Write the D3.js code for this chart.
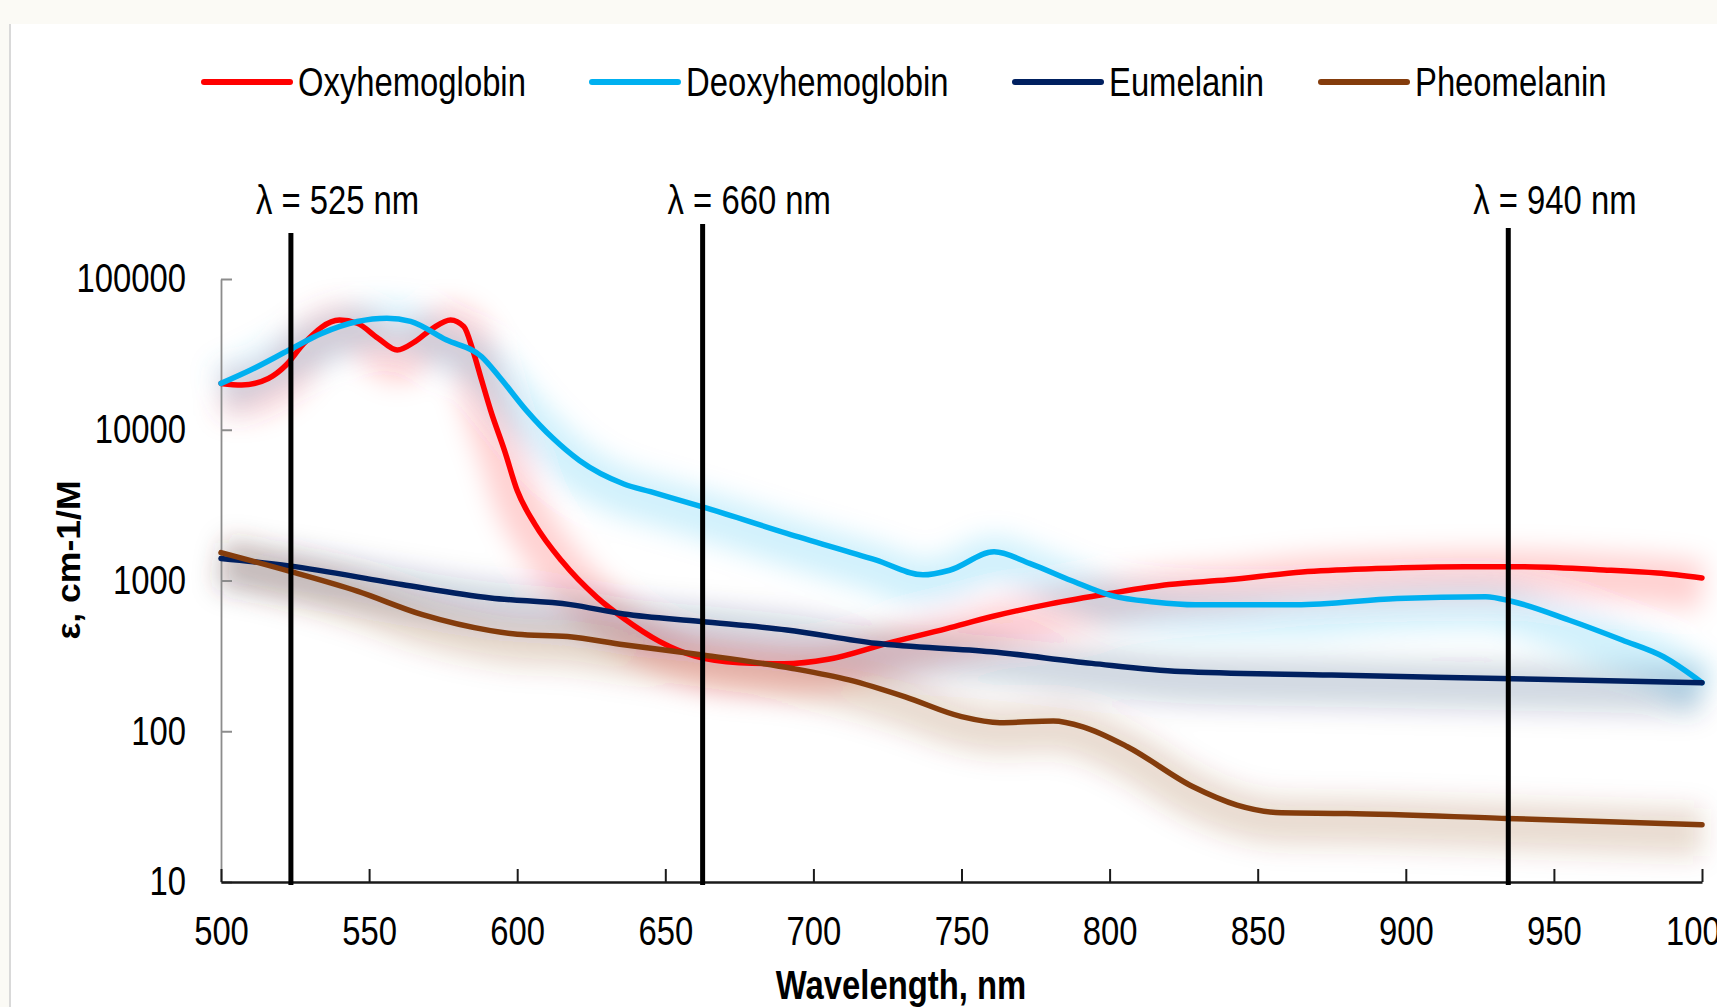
<!DOCTYPE html>
<html>
<head>
<meta charset="utf-8">
<script src="https://cdn.jsdelivr.net/npm/d3@7"></script>
<style>
  html, body { margin: 0; padding: 0; background: #fbfaf5; overflow: hidden; }
  svg { display: block; }
</style>
</head>
<body>
<svg id="chart" width="1717" height="1007"></svg>
<script>
// ---------- data ----------
const seriesNames = ["Oxyhemoglobin", "Deoxyhemoglobin", "Eumelanin", "Pheomelanin"];
const seriesColors = ["#ff0000", "#00b0f0", "#002060", "#843c0c"];

const oxyWl  = [500,507,516,522,528,540,546,553,559.5,565.5,571.5,577.5,582,585,588,591,595.7,600,606,615,627,636,648,660,675,690,705,725,745,760,780,800,820,840,865,890,920,940,965,985,1000];
const oxyVal = [20300,19800,21900,26900,37400,53500,50900,40500,33800,38400,47100,53500,48300,33800,21300,13500,7300,3950,2360,1350,770,560,395,315,285,280,300,383,480,575,700,820,940,1010,1140,1200,1235,1235,1180,1120,1040];

const deoxyWl  = [500,510,523,534,546,556,564,576,588,594,603,612,621,636,645,664,691,721,737,746,761,773,787,801,815,829,863,897,927,936,955,973,987,1000];
const deoxyVal = [20300,24900,33800,43600,52300,55000,52300,39500,30500,22400,13500,8800,6250,4370,3880,3020,2055,1370,1090,1170,1550,1300,1000,790,720,690,690,760,780,725,547,403,312,210];

const euWl  = [500,523,561,591,618,636,662,691,721,760,794,824,875,932,1000];
const euVal = [1400,1250,940,766,692,600,535,470,383,337,282,249,236,224,210];

const pheoWl  = [500,523,546,568,591,600,617,636,662,693,712,731,750,763,781,791,806,828,843,858,880,934,1000];
const pheoVal = [1530,1153,849,593,465,440,425,375,322,261,219,169,125,114,117,107,79,43,32.4,28.8,28.5,26.4,24];

const markerLabels = ["λ = 525 nm", "λ = 660 nm", "λ = 940 nm"];
const markerPos    = [523.6, 662.6, 934.6];   // where the lines sit on the axis in the picture

const xTicks = [500,550,600,650,700,750,800,850,900,950,1000];
const yTicks = [10,100,1000,10000,100000];
const xTitle = "Wavelength, nm";
const yTitle = "ε, cm-1/M";

// ---------- setup ----------
const svg = d3.select("#chart");
const FONT = "'Liberation Sans Narrow','Arial Narrow','Liberation Sans',Arial,sans-serif";
const WIDEFONT = "'Liberation Sans',Arial,sans-serif";

// detect a narrow font
let narrowOK = true;
(function(){
  const t1 = svg.append("text").attr("font-family", "'Liberation Sans Narrow','Arial Narrow'").attr("font-size", 40).text("Oxyhemoglobin 1234");
  const t2 = svg.append("text").attr("font-family", "'Liberation Sans',Arial").attr("font-size", 40).text("Oxyhemoglobin 1234");
  const w1 = t1.node().getComputedTextLength(), w2 = t2.node().getComputedTextLength();
  narrowOK = w1 < w2 * 0.92;
  t1.remove(); t2.remove();
})();
function narrow(sel) {
  if (!narrowOK) sel.each(function(){
    const w = this.getComputedTextLength();
    d3.select(this).attr("textLength", w * 0.82).attr("lengthAdjust", "spacingAndGlyphs");
  });
  return sel;
}

// background panel
svg.append("rect").attr("x", 0).attr("y", 0).attr("width", 1717).attr("height", 1007).attr("fill", "#fbfaf5");
svg.append("rect").attr("x", 10).attr("y", 24).attr("width", 1707).attr("height", 983).attr("fill", "#ffffff");
svg.append("line").attr("x1", 10).attr("x2", 10).attr("y1", 24).attr("y2", 1007).attr("stroke", "#d9d9d9").attr("stroke-width", 2);

const x = d3.scaleLinear().domain([500, 1000]).range([221, 1702]);
const y = d3.scaleLog().domain([10, 100000]).range([882, 279]);

// glow filter
const defs = svg.append("defs");
const f = defs.append("filter").attr("id", "glow").attr("x", "-10%").attr("y", "-60%").attr("width", "120%").attr("height", "220%");
f.append("feGaussianBlur").attr("stdDeviation", 13);

const series = [
  {name: seriesNames[0], color: seriesColors[0], wl: oxyWl,   v: oxyVal},
  {name: seriesNames[1], color: seriesColors[1], wl: deoxyWl, v: deoxyVal},
  {name: seriesNames[2], color: seriesColors[2], wl: euWl,    v: euVal},
  {name: seriesNames[3], color: seriesColors[3], wl: pheoWl,  v: pheoVal}
];

const line = d3.line().x(d => x(d[0])).y(d => y(d[1])).curve(d3.curveMonotoneX);

// glows
const glowG = svg.append("g").attr("filter", "url(#glow)");
series.forEach(s => {
  glowG.append("path")
    .attr("d", line(s.wl.map((w, i) => [w, s.v[i]])))
    .attr("transform", "translate(0,8)")
    .attr("fill", "none").attr("stroke", s.color).attr("stroke-opacity", 0.18)
    .attr("stroke-width", 48).attr("stroke-linejoin", "round");
});

// axes
const yAxis = svg.append("g").attr("transform", `translate(${x(500)},0)`)
  .call(d3.axisLeft(y).tickValues(yTicks).tickFormat(d3.format("d")).tickSizeInner(-11).tickSizeOuter(0).tickPadding(35));
yAxis.select(".domain").attr("stroke", "#8c8c8c").attr("stroke-width", 1.8);
yAxis.selectAll(".tick line").attr("stroke", "#8c8c8c").attr("stroke-width", 2);
yAxis.selectAll("text").attr("font-family", FONT).attr("font-size", 40).attr("fill", "#000");

const xAxis = svg.append("g").attr("transform", `translate(0,${y(10)})`)
  .call(d3.axisBottom(x).tickValues(xTicks).tickFormat(d3.format("d")).tickSizeInner(-13).tickSizeOuter(0).tickPadding(35));
xAxis.select(".domain").attr("stroke", "#1a1a1a").attr("stroke-width", 2.5);
xAxis.selectAll(".tick line").attr("stroke", "#1a1a1a").attr("stroke-width", 2);
xAxis.selectAll("text").attr("font-family", FONT).attr("font-size", 40).attr("fill", "#000");
narrow(yAxis.selectAll("text")); narrow(xAxis.selectAll("text"));

// series lines
series.forEach(s => {
  svg.append("path")
    .attr("d", line(s.wl.map((w, i) => [w, s.v[i]])))
    .attr("fill", "none").attr("stroke", s.color)
    .attr("stroke-width", 5.5).attr("stroke-linejoin", "round").attr("stroke-linecap", "round");
});

// marker lines + labels
const markerTop = [233, 224, 228];
markerPos.forEach((p, i) => {
  svg.append("line")
    .attr("x1", x(p)).attr("x2", x(p))
    .attr("y1", markerTop[i]).attr("y2", y(10) + 3)
    .attr("stroke", "#000").attr("stroke-width", 5);
  narrow(svg.append("text")
    .attr("x", x(p) - 35).attr("y", 214)
    .attr("font-family", FONT).attr("font-size", 40).attr("fill", "#000")
    .text(markerLabels[i]));
});

// legend
const legX = [204, 592, 1015, 1321];
series.forEach((s, i) => {
  svg.append("line")
    .attr("x1", legX[i]).attr("x2", legX[i] + 86).attr("y1", 82).attr("y2", 82)
    .attr("stroke", s.color).attr("stroke-width", 6).attr("stroke-linecap", "round");
  narrow(svg.append("text")
    .attr("x", legX[i] + 94).attr("y", 96)
    .attr("font-family", FONT).attr("font-size", 40).attr("fill", "#000")
    .text(s.name));
});

// axis titles
narrow(svg.append("text")
  .attr("x", 901).attr("y", 999).attr("text-anchor", "middle")
  .attr("font-family", FONT).attr("font-size", 40).attr("font-weight", "bold").attr("fill", "#000")
  .text(xTitle));
svg.append("text")
  .attr("transform", "translate(80,560) rotate(-90)").attr("text-anchor", "middle")
  .attr("font-family", WIDEFONT).attr("font-size", 33).attr("font-weight", "bold").attr("fill", "#000")
  .attr("textLength", 159).attr("lengthAdjust", "spacingAndGlyphs")
  .text(yTitle);
</script>
</body>
</html>
